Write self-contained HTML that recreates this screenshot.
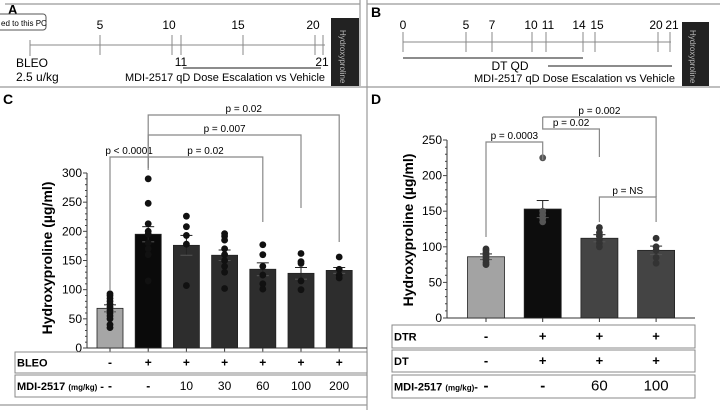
<!DOCTYPE html>
<html><head><meta charset="utf-8"><style>
body{margin:0;background:#fff;}
svg{display:block;font-family:"Liberation Sans",Arial,sans-serif;}
</style></head><body>
<svg id="fig" width="720" height="410" viewBox="0 0 720 410">
<rect x="0" y="0" width="720" height="410" fill="#fff"/>
<g stroke="#999" stroke-width="1.2" fill="none">
<line x1="5" y1="4" x2="360" y2="4"/><line x1="360" y1="0" x2="360" y2="86"/>
<line x1="367" y1="4" x2="720" y2="4"/><line x1="367" y1="0" x2="367" y2="410"/>
<line x1="0" y1="87" x2="720" y2="87"/>
<line x1="0" y1="405" x2="367" y2="405"/>
</g>
<g font-size="12">
<text x="8" y="14" font-weight="bold" font-size="13">A</text>
<rect x="-4" y="14" width="50" height="16" rx="3" fill="#fff" stroke="#555"/>
<text x="1" y="26" font-size="8">ed to this PC</text>
<line x1="30" y1="45" x2="325" y2="45" stroke="#888"/>
<g stroke="#888"><line x1="30" y1="40" x2="30" y2="56"/><line x1="100" y1="35" x2="100" y2="55"/><line x1="172" y1="35" x2="172" y2="55"/><line x1="181" y1="35" x2="181" y2="55"/><line x1="243" y1="35" x2="243" y2="55"/><line x1="315" y1="35" x2="315" y2="55"/><line x1="323" y1="35" x2="323" y2="55"/></g>
<g text-anchor="middle"><text x="100" y="29">5</text><text x="169" y="29">10</text><text x="238" y="29">15</text><text x="313" y="29">20</text><text x="181" y="66">11</text><text x="322" y="66">21</text></g>
<line x1="183" y1="68" x2="321" y2="68" stroke="#666" stroke-width="1.5"/>
<text x="16" y="67">BLEO</text><text x="16" y="81">2.5 u/kg</text>
<text x="125" y="81" font-size="11" textLength="200" lengthAdjust="spacingAndGlyphs">MDI-2517 qD Dose Escalation vs Vehicle</text>
<rect x="331" y="18" width="28" height="68" fill="#222"/>
<text transform="translate(340,30) rotate(90)" fill="#bbb" font-size="8">Hydroxyproline</text>
</g>
<g font-size="12">
<text x="371" y="17" font-weight="bold" font-size="14">B</text>
<line x1="403" y1="42" x2="671" y2="42" stroke="#888"/>
<g stroke="#888"><line x1="403" y1="32" x2="403" y2="52"/><line x1="466" y1="32" x2="466" y2="52"/><line x1="492" y1="32" x2="492" y2="52"/><line x1="532" y1="32" x2="532" y2="52"/><line x1="546" y1="32" x2="546" y2="52"/><line x1="583" y1="32" x2="583" y2="52"/><line x1="595" y1="32" x2="595" y2="52"/><line x1="658" y1="32" x2="658" y2="52"/><line x1="670" y1="32" x2="670" y2="52"/></g>
<g text-anchor="middle"><text x="403" y="29">0</text><text x="466" y="29">5</text><text x="492" y="29">7</text><text x="531" y="29">10</text><text x="548" y="29">11</text><text x="579" y="29">14</text><text x="597" y="29">15</text><text x="656" y="29">20</text><text x="672" y="29">21</text></g>
<line x1="403" y1="58" x2="583" y2="58" stroke="#666" stroke-width="1.5"/>
<line x1="548" y1="66" x2="672" y2="66" stroke="#666" stroke-width="1.5"/>
<text x="510" y="70" text-anchor="middle">DT QD</text>
<text x="474" y="82" font-size="11" textLength="201" lengthAdjust="spacingAndGlyphs">MDI-2517 qD Dose Escalation vs Vehicle</text>
<rect x="682" y="22" width="27" height="64" fill="#222"/>
<text transform="translate(690,30) rotate(90)" fill="#bbb" font-size="8">Hydroxyproline</text>
</g>
<text x="3" y="104" font-weight="bold" font-size="14">C</text>
<text x="371" y="104" font-weight="bold" font-size="14">D</text>
<g id="gc"></g>
<g id="gd"></g>
</svg>
<script>
const cMeans=[68,195,176,159,135,128,133];
const cErr=[6,13,17,9,11,10,5];
const cPts=[[35,40,50,55,60,65,70,75,80,85,90,93],[290,248,213,200,195,180,170,160,115],[226,208,193,178,107],[196,192,185,170,160,150,140,130,102],[177,160,140,125,110,101],[162,148,145,115,100],[156,135,125,120]];
const cTicks=[0,50,100,150,200,250,300];
const cRow1=["-","+","+","+","+","+","+"];
const cRow2=["-","-","10","30","60","100","200"];
const dMeans=[86,153,112,95];
const dErr=[4,12,5,6];
const dPts=[[97,95,92,90,88,85,82,78,75],[225,150,145,140,135],[127,120,115,110,105,100],[112,100,95,85,77]];
const dTicks=[0,50,100,150,200,250];
const dRow1=["-","+","+","+"];
const dRow2=["-","+","+","+"];
const dRow3=["-","-","60","100"];
const NS="http://www.w3.org/2000/svg";
function mk(p,tag,a,txt){const e=document.createElementNS(NS,tag);for(const k in a)e.setAttribute(k,a[k]);if(txt!==undefined)e.textContent=txt;p.appendChild(e);return e;}
function chart(g,o){
 const y=v=>o.y0-(v/o.max)*(o.y0-o.yTop);
 const x=i=>o.x0+o.step*i;
 mk(g,'line',{x1:o.ax,y1:o.y0,x2:o.ax,y2:o.yTop,stroke:'#333'});
 mk(g,'line',{x1:o.ax,y1:o.y0,x2:o.xEnd,y2:o.y0,stroke:'#333'});
 for(let v=0;v<=o.max;v+=10){mk(g,'line',{x1:o.ax-(v%50?2:4),y1:y(v),x2:o.ax,y2:y(v),stroke:'#444'});}
 o.ticks.forEach(v=>{const t=mk(g,'text',{x:o.ax-5,y:y(v)+4,'text-anchor':'end','font-size':12},v);
  
  });
 const yl=mk(g,'text',{transform:`translate(${o.ylx},${o.yly}) rotate(-90)`,'text-anchor':'middle','font-size':14,'font-weight':'bold'},'Hydroxyproline (µg/ml)');
 
 
 o.means.forEach((m,i)=>{
  const b=mk(g,'rect',{x:x(i)-o.bw/2,y:y(m),width:o.bw,height:o.y0-y(m),fill:o.colors[i],stroke:'#222','stroke-width':0.8});
  
  
  mk(g,'line',{x1:x(i),y1:y(m-o.err[i]),x2:x(i),y2:y(m+o.err[i]),stroke:'#222'});
  mk(g,'line',{x1:x(i)-6,y1:y(m+o.err[i]),x2:x(i)+6,y2:y(m+o.err[i]),stroke:'#222'});
  mk(g,'line',{x1:x(i)-6,y1:y(m-o.err[i]),x2:x(i)+6,y2:y(m-o.err[i]),stroke:'#555'});
  mk(g,'line',{x1:x(i),y1:o.y0,x2:x(i),y2:o.y0+4,stroke:'#333'});
  o.pts[i].forEach(p=>{const c=mk(g,'circle',{cx:x(i),cy:y(p),r:3.4,fill:o.ptc[i]});
   
   });
 });
 o.br.forEach(b=>{
  mk(g,'polyline',{points:`${x(b[0])},${b[3]} ${x(b[0])},${b[2]} ${x(b[1])},${b[2]} ${x(b[1])},${b[4]}`,fill:'none',stroke:'#888','stroke-width':1.2});
  const t=mk(g,'text',{x:(x(b[0])+x(b[1]))/2,y:b[2]-3,'text-anchor':'middle','font-size':10},b[5]);
  
  
 });
 o.rows.forEach(r=>{
  const [top,h,lab,vals,fs]=r;
  mk(g,'rect',{x:o.tx,y:top,width:o.tw,height:h,fill:'#fff',stroke:'#888'});
  mk(g,'text',{x:o.tx+2,y:top+h/2+4,'font-size':11,'font-weight':'bold'}).innerHTML=lab;
  vals.forEach((v,i)=>mk(g,'text',{x:x(i),y:top+h/2+4,'text-anchor':'middle','font-size':fs,'font-weight':(v==='+'||v==='-')?'bold':'normal'},v));
 });
}
const gc=document.getElementById('gc'),gd=document.getElementById('gd');
chart(gc,{y0:348,yTop:173,max:300,ax:87,xEnd:367,x0:110,step:38.2,bw:26,means:cMeans,err:cErr,pts:cPts,ticks:cTicks,
 colors:['#a6a6a6','#0a0a0a','#2d2d2d','#2d2d2d','#2d2d2d','#2d2d2d','#2d2d2d'],ptc:['#111','#111','#111','#111','#111','#111','#111'],
 ylx:52,yly:258,
 br:[[0,1,157,290,170,'p < 0.0001'],[1,4,157,168,222,'p = 0.02'],[1,5,135,168,208,'p = 0.007'],[1,6,115,168,242,'p = 0.02']],
 tx:15,tw:352,rows:[[352,21,'BLEO',cRow1,12],[375,22,'MDI-2517 <tspan font-size="8">(mg/kg)</tspan> -',cRow2,12]]});
chart(gd,{y0:318,yTop:140,max:250,ax:447,xEnd:695,x0:486,step:56.7,bw:37,means:dMeans,err:dErr,pts:dPts,ticks:dTicks,
 colors:['#a3a3a3','#0d0d0d','#444','#444'],ptc:['#333','#555','#333','#333'],
 ylx:413,yly:230,
 br:[[0,1,142,237,160,'p = 0.0003'],[1,2,129,117,157,'p = 0.02'],[1,3,117,117,197,'p = 0.002'],[2,3,197,222,222,'p = NS']],
 tx:392,tw:303,rows:[[325,23,'DTR',dRow1,13],[350,22,'DT',dRow2,13],[375,23,'MDI-2517 <tspan font-size="8">(mg/kg)</tspan>-',dRow3,15]]});
</script>
</body></html>
